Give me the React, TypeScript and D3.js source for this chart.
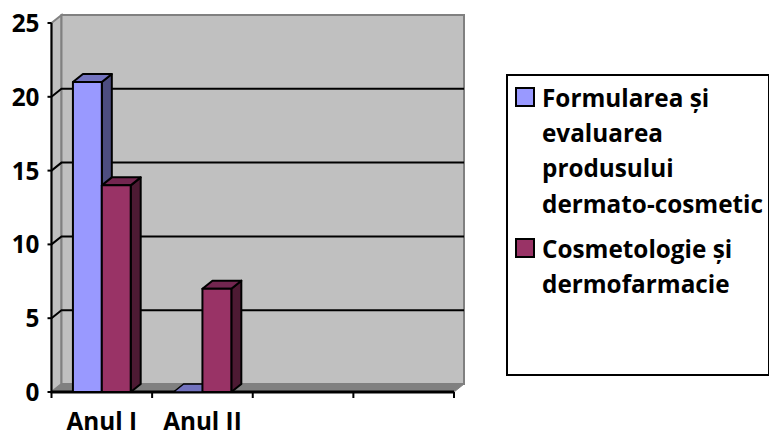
import * as d3 from "d3";

const categories = ["Anul I", "Anul II", "", ""];
const seriesNames = ["Formularea și evaluarea produsului dermato-cosmetic", "Cosmetologie și dermofarmacie"];
const formularea = [21, 0, 0, 0];
const cosmetologie = [14, 7, 0, 0];
const yTickValues = [0, 5, 10, 15, 20, 25];
const legendLines = [
  ["Formularea și", "evaluarea", "produsului", "dermato-cosmetic"],
  ["Cosmetologie și", "dermofarmacie"],
];

const FONT = "'Open Sans', Lato, sans-serif";
const BLUE = ["#9999ff", "#7373bf", "#4d4d80"];
const RED = ["#993366", "#732650", "#4d1a33"];

const width = 769;
const height = 437;
const dx = 10;
const dy = -8;

const x = d3.scaleLinear().domain([0, 4]).range([51.5, 454]);
const y = d3.scaleLinear().domain([0, 25]).range([392, 23]);

// one 3D column: front, top and side faces
function Bar({ x0, x1, value, colors }: { x0: number; x1: number; value: number; colors: string[] }) {
  const top = y(value);
  const base = y(0);
  const topFace = `M${x0},${top}L${x0 + dx},${top + dy}L${x1 + dx},${top + dy}L${x1},${top}Z`;
  if (value === 0) {
    return <path d={topFace} fill={colors[1]} stroke="#000" strokeWidth={1.5} strokeLinejoin="round" />;
  }
  const side = `M${x1},${top}L${x1 + dx},${top + dy}L${x1 + dx},${base + dy}L${x1},${base}Z`;
  return (
    <g stroke="#000" strokeWidth={2} strokeLinejoin="round">
      <path d={side} fill={colors[2]} />
      <path d={topFace} fill={colors[1]} />
      <rect x={x0} y={top} width={x1 - x0} height={base - top} fill={colors[0]} />
    </g>
  );
}

export default function App() {
  const catWidth = x(1) - x(0);
  const gapLeft = catWidth * 0.213;
  const barWidth = catWidth * 0.287;

  const left = x(0);
  const right = x(4);
  const bottom = y(0);
  const top = y(25);

  return (
    <svg
      width={width}
      height={height}
      style={{ position: "absolute", left: 0, top: 0, background: "#fff" }}
      fontFamily={FONT}
      fontWeight={700}
    >
      {/* walls */}
      <path
        d={`M${left},${top}L${left + dx},${top + dy}L${left + dx},${bottom + dy}L${left},${bottom}Z`}
        fill="#c0c0c0"
        stroke="#808080"
        strokeWidth={2}
      />
      <rect
        x={left + dx}
        y={top + dy}
        width={right - left}
        height={bottom - top}
        fill="#c0c0c0"
        stroke="#808080"
        strokeWidth={2}
      />
      <path
        d={`M${left},${bottom}L${left + dx},${bottom + dy}L${right + dx},${bottom + dy}L${right},${bottom}Z`}
        fill="#808080"
        stroke="#808080"
      />

      {/* gridlines */}
      {yTickValues.slice(1, -1).map((t) => (
        <path
          key={t}
          d={`M${left},${y(t)}L${left + dx},${y(t) + dy}L${right + dx},${y(t) + dy}`}
          fill="none"
          stroke="#000"
          strokeWidth={2}
        />
      ))}

      {/* axes */}
      <line x1={left} x2={left} y1={top} y2={bottom + 1} stroke="#000" strokeWidth={2} />
      <line x1={left} x2={right} y1={bottom} y2={bottom} stroke="#000" strokeWidth={3} />
      {yTickValues.map((t) => (
        <g key={t}>
          <line x1={left - 4} x2={left} y1={y(t)} y2={y(t)} stroke="#000" strokeWidth={2} />
          <text x={left - 12} y={y(t) + 9} textAnchor="end" fontSize={24.3} fill="#000">
            {t}
          </text>
        </g>
      ))}
      {d3.range(5).map((i) => (
        <line key={i} x1={x(i)} x2={x(i)} y1={bottom} y2={bottom + 6} stroke="#000" strokeWidth={2} />
      ))}
      {categories.map((c, i) => (
        <text key={i} x={x(i) + catWidth / 2} y={430} textAnchor="middle" fontSize={24.3} fill="#000">
          {c}
        </text>
      ))}

      {/* bars */}
      {categories.map((c, i) => (
        <g key={i}>
          {formularea[i] > 0 || i === 1 ? (
            <Bar x0={x(i) + gapLeft} x1={x(i) + gapLeft + barWidth} value={formularea[i]} colors={BLUE} />
          ) : null}
          {cosmetologie[i] > 0 ? (
            <Bar
              x0={x(i) + gapLeft + barWidth}
              x1={x(i) + gapLeft + barWidth * 2}
              value={cosmetologie[i]}
              colors={RED}
            />
          ) : null}
        </g>
      ))}

      {/* legend */}
      <rect x={507} y={75} width={262} height={300} fill="#fff" stroke="#000" strokeWidth={2} />
      {seriesNames.map((name, i) => {
        const firstLine = i === 0 ? 107 : 258;
        return (
          <g key={name}>
            <rect x={516} y={firstLine - 19} width={18} height={18} fill={i === 0 ? BLUE[0] : RED[0]} stroke="#000" strokeWidth={2} />
            {legendLines[i].map((line, j) => (
              <text key={line} x={542} y={firstLine + j * 35.2} fontSize={24.3} fill="#000">
                {line}
              </text>
            ))}
          </g>
        );
      })}
    </svg>
  );
}
